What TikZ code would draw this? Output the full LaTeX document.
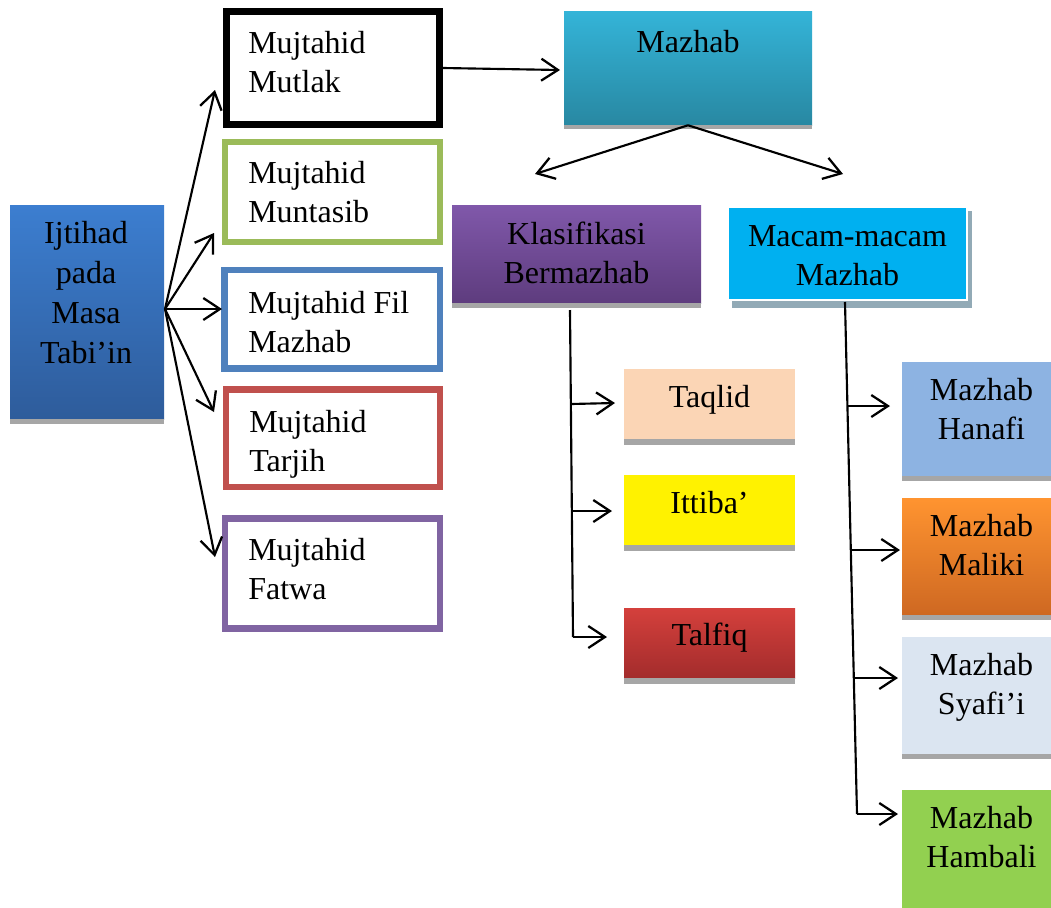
\documentclass[tikz,border=0pt]{standalone}
\usepackage{fontspec}
\setmainfont{Liberation Serif}
\usetikzlibrary{arrows.meta,fit}
\definecolor{ijtop}{RGB}{60,126,208}
\definecolor{ijbot}{RGB}{46,92,155}
\definecolor{mztop}{RGB}{52,180,216}
\definecolor{mzbot}{RGB}{40,136,162}
\definecolor{kltop}{RGB}{128,88,170}
\definecolor{klbot}{RGB}{94,60,126}
\definecolor{macam}{RGB}{0,176,240}
\definecolor{macamshd}{RGB}{146,170,182}
\definecolor{taqlid}{RGB}{251,213,181}
\definecolor{tftop}{RGB}{212,64,60}
\definecolor{tfbot}{RGB}{163,44,44}
\definecolor{hanafi}{RGB}{141,179,226}
\definecolor{mltop}{RGB}{255,148,48}
\definecolor{mlbot}{RGB}{206,104,34}
\definecolor{syafii}{RGB}{219,229,241}
\definecolor{hambali}{RGB}{146,208,80}
\definecolor{shadowgray}{RGB}{166,166,166}
\definecolor{mgreen}{RGB}{155,187,89}
\definecolor{mblue}{RGB}{79,129,189}
\definecolor{mred}{RGB}{192,80,77}
\definecolor{mpurple}{RGB}{128,100,162}
\newcommand\mylstack[1]{\begin{tabular}[t]{@{}l@{}}#1\end{tabular}}
\newcommand\mycstack[1]{\begin{tabular}[t]{@{}c@{}}#1\end{tabular}}
\begin{document}
\begin{tikzpicture}[x=0.75pt,y=-0.75pt,
  every node/.style={font=\fontsize{24}{29.5}\selectfont},
  box/.style={inner sep=0pt},
  txt/.style={inner sep=0pt, anchor=base},
  ltxt/.style={inner sep=0pt, anchor=base west},
  mbox/.style={box, draw, fill=white, line width=4.8pt},
  arr/.style={line width=1.6pt, -{Straight Barb[length=12.5pt,width=16.5pt,line width=1.7pt]}},
  ln/.style={line width=1.6pt},
  shd/.style={fill=shadowgray}
]
\useasboundingbox (0,0) rectangle (1051,908);

% left box
\node[box, top color=ijtop, bottom color=ijbot, fit={(10,205)(164,419)}] (ij) {};
\fill[shd] (ij.south west) rectangle ([yshift=-3.5pt]ij.south east);
\node[txt, font=\fontsize{24}{30}\selectfont] (ijtext) at (86,243) {\mycstack{Ijtihad\\pada\\Masa\\Tabi’in}};

% mujtahid boxes
\node[mbox, draw=black, line width=5.2pt, fit={(226.5,11.5)(439.5,124.5)}] (mutlak) {};
\node[ltxt] (mutlaktext) at (248,53) {\mylstack{Mujtahid\\Mutlak}};
\node[mbox, draw=mgreen, fit={(225.2,142.2)(439.8,241.8)}] (muntasib) {};
\node[ltxt] (muntasibtext) at (248,183) {\mylstack{Mujtahid\\Muntasib}};
\node[mbox, draw=mblue, fit={(224.5,270)(439.8,368.5)}] (fil) {};
\node[ltxt] (filtext) at (248,313) {\mylstack{Mujtahid Fil\\Mazhab}};
\node[mbox, draw=mred, fit={(226,389.5)(439.8,487)}] (tarjih) {};
\node[ltxt] (tarjihtext) at (249,432) {\mylstack{Mujtahid\\Tarjih}};
\node[mbox, draw=mpurple, fit={(225,518.5)(439.8,628.5)}] (fatwa) {};
\node[ltxt] (fatwatext) at (248,560) {\mylstack{Mujtahid\\Fatwa}};

% Mazhab
\node[box, top color=mztop, bottom color=mzbot, fit={(564,11)(812,125)}] (mazhab) {};
\fill[shd] (mazhab.south west) rectangle ([yshift=-3pt]mazhab.south east);
\node[txt] (mazhabtext) at (688,52) {Mazhab};

% Klasifikasi
\node[box, top color=kltop, bottom color=klbot, fit={(452,205)(701,303)}] (klas) {};
\fill[shd] (klas.south west) rectangle ([yshift=-3.5pt]klas.south east);
\node[txt] (klastext) at (576.5,244) {\mycstack{Klasifikasi\\Bermazhab}};

% Macam-macam
\fill[macamshd] (732,211) rectangle (972,308);
\node[box, fill=macam, draw=white, line width=1.5pt, fit={(728,207)(967,300)}] (macam) {};
\node[txt] (macamtext) at (847.5,246) {\mycstack{Macam-macam\\Mazhab}};

% Taqlid etc.
\node[box, fill=taqlid, fit={(624,369)(795,439)}] (taqlid) {};
\fill[shd] (taqlid.south west) rectangle ([yshift=-4pt]taqlid.south east);
\node[txt] (taqlidtext) at (709.5,407) {Taqlid};
\node[box, fill=yellow, fit={(624,475)(795,545)}] (ittiba) {};
\fill[shd] (ittiba.south west) rectangle ([yshift=-4pt]ittiba.south east);
\node[txt] (ittibatext) at (709.5,513) {Ittiba’};
\node[box, top color=tftop, bottom color=tfbot, fit={(624,608)(795,678)}] (talfiq) {};
\fill[shd] (talfiq.south west) rectangle ([yshift=-4pt]talfiq.south east);
\node[txt] (talfiqtext) at (709.5,645) {Talfiq};

% right column
\node[box, fill=hanafi, fit={(902,362)(1062,476)}] (hanafi) {};
\fill[shd] (hanafi.south west) rectangle ([yshift=-3.5pt]hanafi.south east);
\node[txt] (hanafitext) at (981.5,400) {\mycstack{Mazhab\\Hanafi}};
\node[box, top color=mltop, bottom color=mlbot, fit={(902,498)(1062,615)}] (maliki) {};
\fill[shd] (maliki.south west) rectangle ([yshift=-3.5pt]maliki.south east);
\node[txt] (malikitext) at (981.5,536) {\mycstack{Mazhab\\Maliki}};
\node[box, fill=syafii, fit={(902,637)(1062,754)}] (syafii) {};
\fill[shd] (syafii.south west) rectangle ([yshift=-3.5pt]syafii.south east);
\node[txt] (syafiitext) at (981.5,675) {\mycstack{Mazhab\\Syafi’i}};
\node[box, fill=hambali, fit={(902,790)(1062,908)}] (hambali) {};
\node[txt] (hambalitext) at (981.5,828) {\mycstack{Mazhab\\Hambali}};

% fan arrows
\coordinate (fan) at (165,309);
\coordinate (t1) at (215,90);
\coordinate (t2) at (214,233);
\coordinate (t3) at (222,309);
\coordinate (t4) at (214,412);
\coordinate (t5) at (215,557);
\foreach \t in {t1,t2,t3,t4,t5} \draw[arr] (fan) -- (\t);

% Mutlak -> Mazhab
\coordinate (mzin) at (560,70);
\draw[arr] (mutlak.east) -- (mzin);

% Mazhab down
\coordinate (d1) at (535,174);
\coordinate (d2) at (843,174);
\draw[arr] (mazhab.south) -- (d1);
\draw[arr] (mazhab.south) -- (d2);

% Klasifikasi branches
\coordinate (k0) at (570,310);
\coordinate (k3) at (573,637);
\coordinate (k1) at (571,404);
\coordinate (k2) at (571,511);
\coordinate (kt1) at (615,403);
\coordinate (kt2) at (612,511);
\coordinate (kt3) at (607,637);
\draw[ln] (k0) -- (k3);
\draw[arr] (k1) -- (kt1);
\draw[arr] (k2) -- (kt2);
\draw[arr] (k3) -- (kt3);

% Macam branches
\coordinate (m0) at (845,302);
\coordinate (m4) at (857,814);
\coordinate (m1) at (847,406);
\coordinate (m2) at (851,550);
\coordinate (m3) at (854,678);
\coordinate (mt1) at (890,406);
\coordinate (mt2) at (900,550);
\coordinate (mt3) at (898,678);
\coordinate (mt4) at (898,814);
\draw[ln] (m0) -- (m4);
\draw[arr] (m1) -- (mt1);
\draw[arr] (m2) -- (mt2);
\draw[arr] (m3) -- (mt3);
\draw[arr] (m4) -- (mt4);
\end{tikzpicture}
\end{document}
